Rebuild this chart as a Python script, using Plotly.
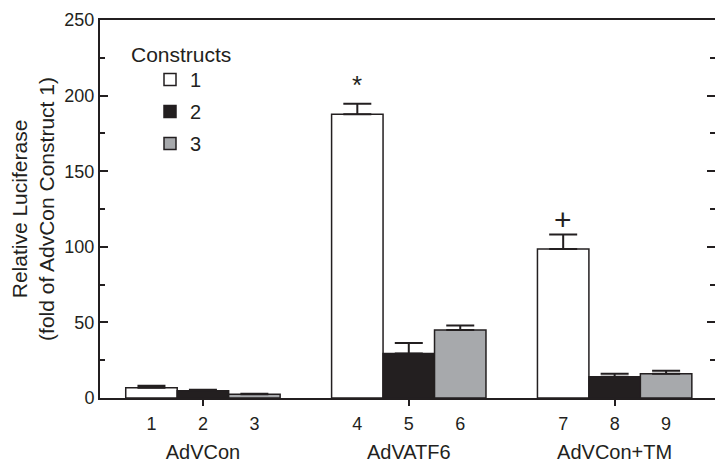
import plotly.graph_objects as go

# ---- data ----
bar_labels = ["1", "2", "3", "4", "5", "6", "7", "8", "9"]
groups = ["AdVCon", "AdVATF6", "AdVCon+TM"]
construct_names = ["1", "2", "3"]
# values per construct across the three groups
construct1 = [6.8, 187.6, 98.5]
construct2 = [4.8, 29.5, 14.1]
construct3 = [2.4, 45.0, 16.1]
err1 = [1.3, 7.0, 9.6]
err2 = [0.6, 6.9, 2.0]
err3 = [0.4, 3.0, 1.9]
marks = ["", "*", "+"]   # significance marks above construct 1 bars
y_ticks = [0, 50, 100, 150, 200, 250]
y_minor = [25, 75, 125, 175, 225]

INK = "#231f20"
FONT = "Liberation Sans, Arial, Helvetica, sans-serif"
colors = ["#ffffff", INK, "#a7a9ac"]


def positions(i):
    return [g * 4 + i for g in range(len(groups))]


bar_x = [g * 4 + i for g in range(len(groups)) for i in range(3)]
group_x = [g * 4 + 1 for g in range(len(groups))]

fig = go.Figure()
for i, (vals, errs) in enumerate([(construct1, err1), (construct2, err2), (construct3, err3)]):
    fig.add_trace(go.Bar(
        x=positions(i), y=vals, width=1,
        name=construct_names[i], legendgroup=construct_names[i],
        marker=dict(color=colors[i], line=dict(color=INK, width=1.5)),
        error_y=dict(type="data", symmetric=False, array=errs,
                     arrayminus=[0] * len(errs), color=INK, thickness=2, width=14),
    ))

# invisible helper trace that carries the secondary axes (group ticks / right ticks)
fig.add_trace(go.Scatter(x=[group_x[0]], y=[0], xaxis="x2", yaxis="y2",
                         mode="markers", marker=dict(opacity=0), showlegend=False,
                         hoverinfo="skip"))

for g, m in enumerate(marks):
    if m:
        fig.add_annotation(x=positions(0)[g], y=construct1[g] + err1[g],
                           xref="x", yref="y", text=m, showarrow=False,
                           yanchor="bottom", xanchor="center",
                           font=dict(family=FONT, size=26 if m == "*" else 30, color=INK),
                           yshift=2 if m == "*" else -3)

fig.add_annotation(x=(129 - 100) / 615, y=(398 - 54) / 378, xref="paper", yref="paper",
                   text="Constructs", showarrow=False, xanchor="left", yanchor="middle",
                   font=dict(family=FONT, size=21, color=INK))

rng_x = [-1, 10.95]
rng_y = [0, 250]

fig.update_layout(
    width=715, height=466,
    margin=dict(l=100, r=0, t=20, b=68, autoexpand=False),
    paper_bgcolor="white", plot_bgcolor="white",
    barmode="overlay",
    font=dict(family=FONT, color=INK, size=17),
    showlegend=True,
    legend=dict(x=(150 - 100) / 615, y=(398 - 60) / 378, xanchor="left", yanchor="top",
                bgcolor="rgba(0,0,0,0)", font=dict(size=20, color=INK),
                traceorder="grouped", tracegroupgap=3,
                itemclick=False, itemdoubleclick=False),
    xaxis=dict(range=rng_x, tickvals=bar_x, ticktext=bar_labels, ticks="",
               showline=True, linecolor=INK, linewidth=2, mirror=True,
               showgrid=False, zeroline=False, tickfont=dict(size=18, color=INK),
               ticklabelstandoff=8, automargin=False),
    xaxis2=dict(range=rng_x, overlaying="x", side="bottom", anchor="y2",
                tickvals=group_x, ticktext=groups, ticks="outside", ticklen=7,
                tickwidth=2, tickcolor=INK, showline=False, showgrid=False,
                zeroline=False, tickfont=dict(size=20, color=INK),
                ticklabelstandoff=29, automargin=False),
    yaxis=dict(range=rng_y, tickvals=y_ticks, ticks="inside", ticklen=8, tickwidth=1.5,
               tickcolor=INK, showline=True, linecolor=INK, linewidth=2,
               showgrid=False, zeroline=False, tickfont=dict(size=18, color=INK),
               minor=dict(tickvals=y_minor, ticks="inside", ticklen=5,
                          tickwidth=1.5, tickcolor=INK),
               automargin=False,
               title=dict(text="Relative Luciferase<br>(fold of AdvCon Construct 1)",
                          font=dict(size=21, color=INK), standoff=4)),
    yaxis2=dict(range=rng_y, overlaying="y", side="right", anchor="x2",
                tickvals=y_ticks, ticks="inside", ticklen=8, tickwidth=1.5, tickcolor=INK,
                showticklabels=False, showline=False, showgrid=False, zeroline=False,
                minor=dict(tickvals=y_minor, ticks="inside", ticklen=5,
                           tickwidth=1.5, tickcolor=INK),
                automargin=False),
)

fig.write_html("out.html",
               config={"displayModeBar": False},
               post_script="document.body.style.margin='0';"
                           "document.body.style.overflow='hidden';")
